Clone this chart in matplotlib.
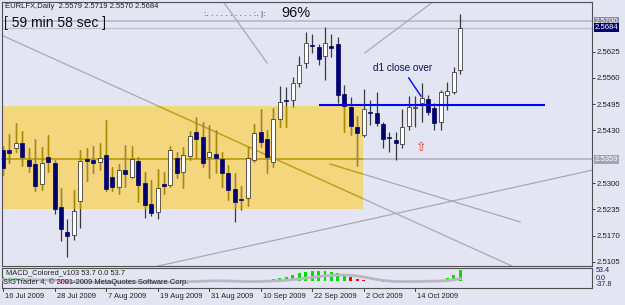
import matplotlib
matplotlib.use('Agg')
import matplotlib.pyplot as plt
import matplotlib.transforms as mtransforms
from matplotlib.patches import Rectangle

plt.rcParams['font.family'] = ['Liberation Sans', 'DejaVu Sans']

# daily EURLFX bars, 16 Jul 2009 .. 23 Oct 2009
opens = [2.5382, 2.5382, 2.5387, 2.5399, 2.5357, 2.5347, 2.5298, 2.5365,
         2.5350, 2.5241, 2.5179, 2.5172, 2.5256, 2.5360, 2.5357, 2.5352,
         2.5370, 2.5315, 2.5290, 2.5332, 2.5315, 2.5355, 2.5300, 2.5248,
         2.5229, 2.5298, 2.5295, 2.5362, 2.5328, 2.5367, 2.5426, 2.5414,
         2.5365, 2.5372, 2.5360, 2.5325, 2.5285, 2.5261, 2.5263, 2.5357,
         2.5426, 2.5409, 2.5352, 2.5459, 2.5505, 2.5505, 2.5547, 2.5597,
         2.5641, 2.5636, 2.5614, 2.5639, 2.5644, 2.5520, 2.5488, 2.5439,
         2.5419, 2.5476, 2.5473, 2.5446, 2.5414, 2.5407, 2.5397, 2.5441,
         2.5486, 2.5498, 2.5508, 2.5486, 2.5451, 2.5518, 2.5525, 2.5579]
highs = [2.5392, 2.5421, 2.5449, 2.5429, 2.5387, 2.5409, 2.5389, 2.5419,
         2.5357, 2.5288, 2.5211, 2.5283, 2.5382, 2.5387, 2.5392, 2.5399,
         2.5456, 2.5340, 2.5347, 2.5394, 2.5392, 2.5365, 2.5328, 2.5308,
         2.5335, 2.5328, 2.5392, 2.5377, 2.5389, 2.5429, 2.5463, 2.5451,
         2.5444, 2.5431, 2.5377, 2.5345, 2.5325, 2.5293, 2.5389, 2.5446,
         2.5483, 2.5431, 2.5486, 2.5540, 2.5538, 2.5562, 2.5614, 2.5674,
         2.5669, 2.5644, 2.5686, 2.5669, 2.5661, 2.5543, 2.5513, 2.5466,
         2.5533, 2.5505, 2.5525, 2.5451, 2.5426, 2.5426, 2.5483, 2.5515,
         2.5515, 2.5547, 2.5518, 2.5498, 2.5530, 2.5550, 2.5587, 2.5719]
lows = [2.5320, 2.5350, 2.5377, 2.5342, 2.5328, 2.5280, 2.5283, 2.5328,
        2.5224, 2.5157, 2.5117, 2.5159, 2.5189, 2.5305, 2.5325, 2.5332,
        2.5280, 2.5280, 2.5273, 2.5290, 2.5313, 2.5253, 2.5214, 2.5219,
        2.5211, 2.5273, 2.5290, 2.5313, 2.5288, 2.5357, 2.5362, 2.5340,
        2.5313, 2.5325, 2.5290, 2.5258, 2.5204, 2.5234, 2.5243, 2.5352,
        2.5389, 2.5325, 2.5340, 2.5439, 2.5439, 2.5488, 2.5538, 2.5585,
        2.5622, 2.5592, 2.5555, 2.5612, 2.5498, 2.5426, 2.5419, 2.5342,
        2.5414, 2.5444, 2.5441, 2.5387, 2.5377, 2.5357, 2.5387, 2.5431,
        2.5439, 2.5451, 2.5468, 2.5431, 2.5431, 2.5481, 2.5520, 2.5570]
closes = [2.5337, 2.5374, 2.5399, 2.5365, 2.5342, 2.5293, 2.5350, 2.5352,
          2.5236, 2.5187, 2.5169, 2.5231, 2.5355, 2.5355, 2.5350, 2.5362,
          2.5285, 2.5290, 2.5332, 2.5323, 2.5360, 2.5295, 2.5246, 2.5226,
          2.5288, 2.5293, 2.5382, 2.5325, 2.5370, 2.5416, 2.5409, 2.5350,
          2.5377, 2.5362, 2.5325, 2.5283, 2.5253, 2.5258, 2.5362, 2.5424,
          2.5402, 2.5365, 2.5459, 2.5500, 2.5503, 2.5547, 2.5592, 2.5646,
          2.5639, 2.5607, 2.5646, 2.5634, 2.5518, 2.5491, 2.5441, 2.5424,
          2.5483, 2.5473, 2.5449, 2.5409, 2.5412, 2.5399, 2.5439, 2.5488,
          2.5488, 2.5510, 2.5476, 2.5449, 2.5525, 2.5528, 2.5575, 2.5684]

# MACD_Colored histogram and signal line
macd = [18, 17, 16, 14, 11, 8, 7, 6,
        -2, -8, -12, -12, -8, -6, -5, -4,
        -5, -6, -5, -5, -4, -5, -7, -9,
        -8, -7, -4, -4, -2, 2, 4, 3,
        3, 2, 0, -2, -5, -6, -4, 0,
        3, 5, 9, 15, 22, 30, 38, 46,
        50, 49, 50, 47, 40, 30, 18, 8,
        4, 2, 0, -3, -5, -7, -5, -2,
        1, 3, 2, 1, 6, 16, 32, 53.7]
signal = [6, 6, 6, 6, 6, 6, 5, 5,
          4, 2, 0, -2, -4, -5, -6, -6,
          -6, -6, -6, -6, -5, -5, -5, -6,
          -6, -6, -6, -5, -4, -3, -2, -1,
          0, 1, 1, 0, -1, -2, -3, -3,
          -2, -1, 0, 2, 4, 7, 10, 14,
          18, 22, 26, 28, 30, 30, 28, 25,
          20, 14, 8, 3, 0, -2, -3, -3,
          -2, -2, -1, -1, 0, 2, 6, 12]

date_ticks = [0, 8, 16, 24, 32, 40, 48, 56, 64]
date_labels = ['16 Jul 2009', '28 Jul 2009', '7 Aug 2009', '19 Aug 2009', '31 Aug 2009',
               '10 Sep 2009', '22 Sep 2009', '2 Oct 2009', '14 Oct 2009']
price_ticks = [2.5105, 2.5170, 2.5235, 2.5300, 2.5430, 2.5495, 2.5560, 2.5625]

# objects drawn on the chart (bar index, price); mode: both = infinite, fwd = ray, seg = segment
box = (-1, 55.9, 2.5236, 2.5491)
level = 2.5359
ask_line = 2.5700
bid = closes[-1]
trend_lines = [((0, 2.5664), (60, 2.5232), 'both'),
               ((50.8, 2.5347), (80.3, 2.5204), 'seg'),
               ((34.0, 2.5753), (41.0, 2.5597), 'seg'),
               ((56.2, 2.5622), (67.2, 2.5753), 'fwd'),
               ((24.1, 2.5095), (91.5, 2.5332), 'both')]
blue_level = (49, 84.2, 2.5492)

bg = '#e3e6f2'
navy = '#000070'

fig = plt.figure(figsize=(6.25, 3.05), dpi=100, facecolor=bg)
ax = fig.add_axes([2 / 625, 39 / 305, 590 / 625, 264 / 305], facecolor=bg)
mx = fig.add_axes([2 / 625, 17 / 305, 590 / 625, 20 / 305], facecolor=bg)

n = len(closes)
ax.set_xlim(-0.155, 91.46)
ax.set_ylim(2.5095, 2.57476)

rect = Rectangle((box[0], box[2]), box[1] - box[0], box[3] - box[2],
                 facecolor='#f4d67c', edgecolor='none', zorder=1)
ax.add_patch(rect)

# horizontal levels
ax.axhline(ask_line, color='#b8b8c4', lw=1.2, zorder=2)
ax.axhline(bid, color='#c4c4d0', lw=1.0, zorder=2)
ax.axhline(level, color='#b0b0bc', lw=1.2, zorder=2)
gl = ax.axhline(level, color='#c8a000', lw=1.2, zorder=2)
gl.set_clip_path(rect)

# trend lines: grey outside the box, dark gold inside it
for (x1, y1), (x2, y2), mode in trend_lines:
    k = (y2 - y1) / (x2 - x1)
    if mode == 'both':
        xs = [x1 - 200, x1 + 200]
    elif mode == 'fwd':
        xs = [x1, x1 + 200]
    else:
        xs = [x1, x2]
    ys = [y1 + (x - x1) * k for x in xs]
    ax.plot(xs, ys, color='#a8a8b4', lw=0.9, zorder=2)
    g, = ax.plot(xs, ys, color='#c8a000', lw=0.9, zorder=2)
    g.set_clip_path(rect)

# candles
idx = list(range(n))
ax.vlines(idx, lows, highs, color='#3a3a3a', lw=0.9, zorder=3)
w2 = ax.vlines(idx, lows, highs, color='#a88a00', lw=0.9, zorder=3)
w2.set_clip_path(rect)
for i in idx:
    o, c = opens[i], closes[i]
    up = c >= o
    h = max(abs(c - o), 0.00007)
    ax.bar(i, h, bottom=min(o, c), width=0.62,
           color='white' if up else navy, edgecolor='#202020' if up else navy,
           lw=0.5, zorder=4)

# d1 close over
ax.hlines(blue_level[2], blue_level[0], blue_level[1], color='#0000ff', lw=1.5, zorder=5)
ax.plot([63.0, 64.9], [2.5560, 2.5515], color='#0000ff', lw=1.0, zorder=5)
ax.text(62, 2.5585, 'd1 close over', fontsize=7.2, color='#101050', ha='center', va='center', zorder=6)
ax.text(65, 2.5389, '\u21e7', fontsize=9, color='#f03030', ha='center', va='center',
        family='DejaVu Sans', zorder=6)

# axes styling
for a in (ax, mx):
    for s in a.spines.values():
        s.set_color('#505050')
        s.set_linewidth(0.8)
    a.set_xticks([])
ax.yaxis.tick_right()
ax.set_yticks(price_ticks)
ax.set_yticklabels(['%.4f' % p for p in price_ticks])
ax.tick_params(axis='y', length=2, width=0.6, pad=1, labelsize=5.6, colors='#202020')

tr = mtransforms.blended_transform_factory(ax.transAxes, ax.transData)
for p, fc in [(ask_line, '#8c8c98'), (bid, navy), (level, '#a4a4b0')]:
    ax.text(1.004, p, '%.4f' % p, transform=tr, fontsize=5.6, color='white', va='center',
            ha='left', bbox=dict(facecolor=fc, edgecolor='none', pad=0.6), zorder=7, clip_on=False)

# MACD panel, green while above the signal line
mx.set_xlim(ax.get_xlim())
mx.set_ylim(-35, 65)
cols = ['#00dd00' if m >= s else '#ff0000' for m, s in zip(macd, signal)]
mx.bar(idx, macd, width=0.45, color=cols, zorder=2)
mx.plot(idx, signal, color='#b8b8c2', lw=2.0, zorder=3)
mx.set_yticks([])
mx.text(0.006, 0.78, 'MACD_Colored_v103 53.7 0.0 53.7', transform=mx.transAxes,
        fontsize=5.4, color='#202020', va='center')
mx.text(0.002, 0.28, 'SIGTrader 4, \u00a9 2001-2009 MetaQuotes Software Corp.', transform=mx.transAxes,
        fontsize=5.4, color='#202020', va='center')
for s, yy in [('53.4', 0.85), ('0.0', 0.5), ('-37.8', 0.15)]:
    mx.text(1.006, yy, s, transform=mx.transAxes, fontsize=5.2, color='#202050', va='center')

# date axis under the MACD panel
for t, lab in zip(date_ticks, date_labels):
    mx.plot([t, t], [-35, -52], color='#202020', lw=0.6, clip_on=False)
    mx.text(t + 0.35, -80, lab, fontsize=5.4, color='#202020', va='center', ha='left', clip_on=False)

# header texts
fig.text(5 / 625, 1 - 7 / 305, 'EURLFX,Daily  2.5579 2.5719 2.5570 2.5684', fontsize=5.5,
         color='#202020', va='center')
fig.text(4 / 625, 1 - 23 / 305, '[ 59 min 58 sec ]', fontsize=10, color='#101010', va='center')
fig.text(204 / 625, 1 - 14 / 305, ':. . . . . . . . . . :. |:', fontsize=6, color='#303030', va='center')
fig.text(281 / 625, 1 - 13 / 305, '96%', fontsize=10.5, color='#101010', va='center')

fig.savefig('out.png', dpi=100, facecolor=bg)
